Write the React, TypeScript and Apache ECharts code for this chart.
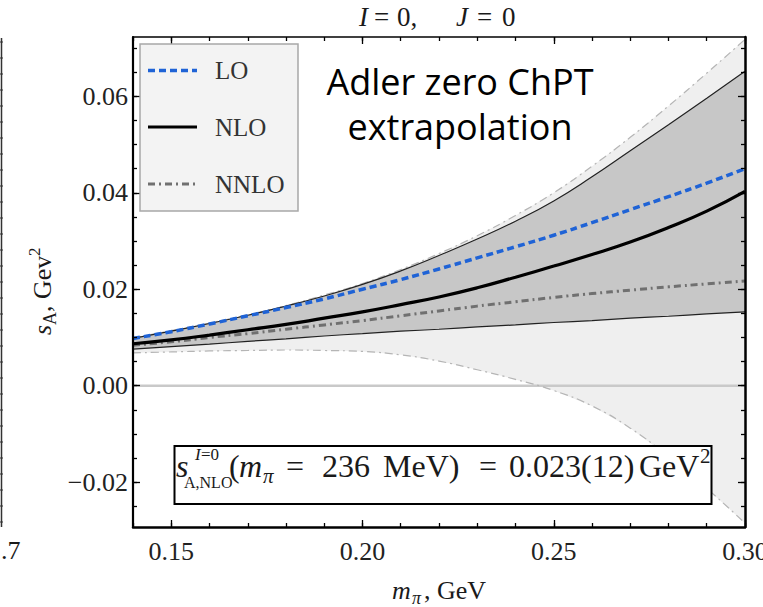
import React, { useEffect, useRef } from "react";
import * as echarts from "echarts";

// ---------- data ----------
const mpi = [0.14, 0.15, 0.16, 0.17, 0.18, 0.19, 0.2, 0.21, 0.22, 0.23, 0.24, 0.25, 0.26, 0.27, 0.28, 0.29, 0.3];
const loValues = [0.0098, 0.0112, 0.0128, 0.0145, 0.0162, 0.018, 0.02, 0.022, 0.0242, 0.0265, 0.0288, 0.0312, 0.0338, 0.0365, 0.0392, 0.042, 0.045];
const nloValues = [0.0087, 0.0095, 0.0105, 0.0116, 0.0127, 0.014, 0.0153, 0.0168, 0.0184, 0.0203, 0.0225, 0.0248, 0.0272, 0.0298, 0.0328, 0.0362, 0.0403];
const nnloValues = [0.0084, 0.0091, 0.01, 0.0108, 0.0117, 0.0126, 0.0135, 0.0145, 0.0155, 0.0165, 0.0174, 0.0183, 0.0191, 0.0198, 0.0205, 0.0211, 0.0217];
const bandUpper = [0.0098, 0.0113, 0.0129, 0.0146, 0.0165, 0.0186, 0.021, 0.0238, 0.027, 0.0304, 0.0341, 0.0383, 0.0433, 0.0487, 0.0541, 0.0596, 0.0652];
const bandLower = [0.0076, 0.0081, 0.0086, 0.0092, 0.0097, 0.0103, 0.0108, 0.0113, 0.0117, 0.0122, 0.0126, 0.0131, 0.0135, 0.014, 0.0144, 0.0149, 0.0153];
const outerUpper = [0.0099, 0.0114, 0.013, 0.0147, 0.0166, 0.0188, 0.0212, 0.0241, 0.0274, 0.0311, 0.0353, 0.04, 0.0455, 0.0515, 0.058, 0.0648, 0.0718];
const outerLower = [0.0068, 0.007, 0.0072, 0.0073, 0.0074, 0.0073, 0.0071, 0.0064, 0.0051, 0.0033, 0.0013, -0.001, -0.0042, -0.0088, -0.0147, -0.0213, -0.0285];

const xMin = 0.14;
const xMax = 0.3;
const yMin = -0.0293;
const yMax = 0.0723;
const xMajorTicks = [0.15, 0.2, 0.25, 0.3];
const xMinorTicks = [0.14, 0.15, 0.16, 0.17, 0.18, 0.19, 0.2, 0.21, 0.22, 0.23, 0.24, 0.25, 0.26, 0.27, 0.28, 0.29, 0.3];
const yMajorTicks = [-0.02, 0, 0.02, 0.04, 0.06];
const yMinorTicks = [-0.025, -0.02, -0.015, -0.01, -0.005, 0, 0.005, 0.01, 0.015, 0.02, 0.025, 0.03, 0.035, 0.04, 0.045, 0.05, 0.055, 0.06, 0.065, 0.07];
const legendNames = ["LO", "NLO", "NNLO"];
const zeroLevel = 0;

const SERIF = "'Liberation Serif', 'DejaVu Serif', serif";
const SANS = "'Open Sans', 'Noto Sans', sans-serif";
const TXT = "#1a1a1a";

function pairs(vals: number[]) {
  return mpi.map((x, i) => [x, vals[i]]);
}

// text segment positioned by its alphabetic baseline
function seg(text: string, x: number, baseline: number, size: number, italic = false, extra: any = {}) {
  return {
    type: "text",
    x,
    y: baseline - 0.3375 * size,
    silent: true,
    z: 100,
    style: {
      text,
      font: `${italic ? "italic " : ""}${size}px ${SERIF}`,
      fill: TXT,
      textAlign: extra.align || "left",
      align: extra.align || "left",
      textVerticalAlign: "middle",
      verticalAlign: "middle",
    },
  };
}

function buildGraphic() {
  const g: any[] = [];
  // sliver of neighbouring panel at far left
  const sliver: any[] = [
    { type: "line", shape: { x1: 1.5, y1: 38, x2: 1.5, y2: 527 }, style: { stroke: "#333", lineWidth: 1.5 } },
  ];
  for (let yy = 42; yy < 527; yy += 16) {
    sliver.push({ type: "line", shape: { x1: 0, y1: yy, x2: 3, y2: yy }, style: { stroke: "#333", lineWidth: 1 } });
  }
  g.push({ type: "group", silent: true, children: sliver });
  g.push(seg(".7", 1, 559, 26));

  // title  I = 0,   J = 0
  g.push(seg("I", 359, 26, 27, true));
  g.push(seg("=", 374, 26, 27));
  g.push(seg("0,", 397, 26, 27));
  g.push(seg("J", 456, 26, 27, true));
  g.push(seg("=", 477, 26, 27));
  g.push(seg("0", 502, 26, 27));

  // x axis name  m_pi, GeV
  g.push(seg("m", 392, 599, 26, true));
  g.push(seg("π", 412, 604, 18, true));
  g.push(seg(", GeV", 424, 599, 26));

  // y axis name (rotated)  s_A, Gev^2
  const yName: any[] = [
    seg("s", 0, 0, 26, true),
    seg("A", 10, 5, 18),
    seg(", Gev", 23, 0, 26),
    seg("2", 79, -11, 17),
  ];
  g.push({ type: "group", x: 51, y: 335, rotation: Math.PI / 2, silent: true, children: yName });

  // legend box
  g.push({
    type: "rect",
    silent: true,
    z: 90,
    shape: { x: 140, y: 44, width: 158, height: 167 },
    style: { fill: "#f3f3f3", stroke: "#a8a8a8", lineWidth: 1.5 },
  });
  const legendY = [70.5, 127, 184];
  const legendStyles = [
    { stroke: "#1f63d6", lineWidth: 3.5, lineDash: [7, 4] },
    { stroke: "#000", lineWidth: 3.2, lineDash: null },
    { stroke: "#707070", lineWidth: 3, lineDash: [7, 4, 2, 4] },
  ];
  legendNames.forEach((name, i) => {
    g.push({
      type: "line",
      silent: true,
      z: 95,
      shape: { x1: 148, y1: legendY[i], x2: 197, y2: legendY[i] },
      style: legendStyles[i],
    });
    g.push({
      type: "text",
      silent: true,
      z: 95,
      x: 215,
      y: legendY[i],
      style: {
        text: name,
        font: `25px ${SERIF}`,
        fill: "#333",
        textAlign: "left",
        align: "left",
        textVerticalAlign: "middle",
        verticalAlign: "middle",
      },
    });
  });

  // annotation
  ["Adler zero ChPT", "extrapolation"].forEach((line, i) => {
    g.push({
      type: "text",
      silent: true,
      z: 95,
      x: 460,
      y: [81, 126][i],
      style: {
        text: line,
        font: `36px ${SANS}`,
        fill: "#000",
        textAlign: "center",
        align: "center",
        textVerticalAlign: "middle",
        verticalAlign: "middle",
      },
    });
  });

  // result box
  g.push({
    type: "rect",
    silent: true,
    z: 90,
    shape: { x: 174.5, y: 446, width: 537, height: 58 },
    style: { fill: "#fff", stroke: "#000", lineWidth: 2 },
  });
  const B = 477;
  g.push(seg("s", 176, B, 32, true));
  g.push(seg("I", 195, 460, 17, true));
  g.push(seg("=0", 201, 460, 17));
  g.push(seg("A,NLO", 184, 488, 16));
  g.push(seg("(", 229, B, 32));
  g.push(seg("m", 239, B, 32, true));
  g.push(seg("π", 263, 483, 21, true));
  g.push(seg("=", 286, B, 32));
  g.push(seg("236", 322, B, 32));
  g.push(seg("MeV)", 383, B, 32));
  g.push(seg("=", 479, B, 32));
  g.push(seg("0.023(12)", 509, B, 32));
  g.push(seg("GeV", 639, B, 32));
  g.push(seg("2", 700, 463, 21));
  return g;
}

function axisCommon(extra: any) {
  return {
    type: "value",
    splitLine: { show: false },
    z: 10,
    ...extra,
  };
}

function bandSeries(name: string, upper: number[], lower: number[], fill: string) {
  return {
    name,
    type: "custom",
    silent: true,
    clip: true,
    data: [[mpi[0], lower[0]]],
    renderItem: (_params: any, api: any) => {
      const top = mpi.map((x, i) => api.coord([x, upper[i]]));
      const bottom = mpi.map((x, i) => api.coord([x, lower[i]])).reverse();
      return {
        type: "polygon",
        shape: { points: top.concat(bottom) },
        style: { fill, stroke: null },
      };
    },
  };
}

export default function App() {
  const ref = useRef<HTMLDivElement>(null);
  useEffect(() => {
    if (!ref.current) return;
    const chart = echarts.init(ref.current, undefined, { renderer: "svg" });
    const tickStyle = { color: "#000", width: 1.3 };
    const xs = { min: xMin, max: xMax };
    const ys = { min: yMin, max: yMax };

    const option: any = {
      animation: false,
      backgroundColor: "#fff",
      grid: { left: 133, top: 37, width: 612, height: 490, containLabel: false, outerBoundsMode: "none" },
      xAxis: [
        axisCommon({
          ...xs,
          position: "bottom",
          axisLine: { show: true, onZero: false, lineStyle: { color: "#000", width: 2.5 } },
          axisTick: { show: true, inside: true, length: 7, lineStyle: tickStyle, customValues: xMajorTicks },
          axisLabel: {
            show: true,
            customValues: xMajorTicks,
            formatter: (v: number) => v.toFixed(2),
            margin: 11,
            color: "#222",
            fontSize: 26,
            fontFamily: SERIF,
          },
        }),
        axisCommon({
          ...xs,
          position: "bottom",
          axisLine: { show: false, onZero: false },
          axisTick: { show: true, inside: true, length: 4, lineStyle: tickStyle, customValues: xMinorTicks },
          axisLabel: { show: false },
        }),
        axisCommon({
          ...xs,
          position: "top",
          axisLine: { show: true, onZero: false, lineStyle: { color: "#000", width: 1.5 } },
          axisTick: { show: true, inside: true, length: 7, lineStyle: tickStyle, customValues: xMajorTicks },
          axisLabel: { show: false },
        }),
        axisCommon({
          ...xs,
          position: "top",
          axisLine: { show: false, onZero: false },
          axisTick: { show: true, inside: true, length: 4, lineStyle: tickStyle, customValues: xMinorTicks },
          axisLabel: { show: false },
        }),
      ],
      yAxis: [
        axisCommon({
          ...ys,
          position: "left",
          axisLine: { show: true, onZero: false, lineStyle: { color: "#000", width: 2.2 } },
          axisTick: { show: true, inside: true, length: 7, lineStyle: tickStyle, customValues: yMajorTicks },
          axisLabel: {
            show: true,
            customValues: yMajorTicks,
            formatter: (v: number) => (v < -1e-9 ? "\u2212" : "") + Math.abs(v).toFixed(2),
            margin: 5,
            color: "#222",
            fontSize: 26,
            fontFamily: SERIF,
          },
        }),
        axisCommon({
          ...ys,
          position: "left",
          axisLine: { show: false, onZero: false },
          axisTick: { show: true, inside: true, length: 4, lineStyle: tickStyle, customValues: yMinorTicks },
          axisLabel: { show: false },
        }),
        axisCommon({
          ...ys,
          position: "right",
          axisLine: { show: true, onZero: false, lineStyle: { color: "#000", width: 2.5 } },
          axisTick: { show: true, inside: true, length: 7, lineStyle: tickStyle, customValues: yMajorTicks },
          axisLabel: { show: false },
        }),
        axisCommon({
          ...ys,
          position: "right",
          axisLine: { show: false, onZero: false },
          axisTick: { show: true, inside: true, length: 4, lineStyle: tickStyle, customValues: yMinorTicks },
          axisLabel: { show: false },
        }),
      ],
      series: [
        bandSeries("outerBand", outerUpper, outerLower, "#efefef"),
        {
          name: "zero",
          type: "line",
          symbol: "none",
          silent: true,
          lineStyle: { color: "#c9c9c9", width: 2.5 },
          data: [
            [xMin, zeroLevel],
            [xMax, zeroLevel],
          ],
        },
        bandSeries("band", bandUpper, bandLower, "#c7c7c7"),
        {
          name: "outerUpperLine",
          type: "line",
          smooth: true,
          symbol: "none",
          silent: true,
          lineStyle: { color: "#b5b5b5", width: 1.2, type: [8, 4, 2, 4] },
          data: pairs(outerUpper),
        },
        {
          name: "outerLowerLine",
          type: "line",
          smooth: true,
          symbol: "none",
          silent: true,
          lineStyle: { color: "#b5b5b5", width: 1.2, type: [8, 4, 2, 4] },
          data: pairs(outerLower),
        },
        {
          name: "bandUpperLine",
          type: "line",
          smooth: true,
          symbol: "none",
          silent: true,
          lineStyle: { color: "#222", width: 1.2 },
          data: pairs(bandUpper),
        },
        {
          name: "bandLowerLine",
          type: "line",
          smooth: true,
          symbol: "none",
          silent: true,
          lineStyle: { color: "#222", width: 1.2 },
          data: pairs(bandLower),
        },
        {
          name: "NNLO",
          type: "line",
          smooth: true,
          symbol: "none",
          lineStyle: { color: "#707070", width: 3, type: [7, 4, 2, 4] },
          data: pairs(nnloValues),
        },
        {
          name: "NLO",
          type: "line",
          smooth: true,
          symbol: "none",
          lineStyle: { color: "#000", width: 3.2 },
          data: pairs(nloValues),
        },
        {
          name: "LO",
          type: "line",
          smooth: true,
          symbol: "none",
          lineStyle: { color: "#1f63d6", width: 3.5, type: [7, 4] },
          data: pairs(loValues),
        },
      ],
      graphic: buildGraphic(),
    };
    chart.setOption(option);
    return () => chart.dispose();
  }, []);
  return <div ref={ref} style={{ width: 763, height: 607, position: "absolute", left: 0, top: 0 }} />;
}
